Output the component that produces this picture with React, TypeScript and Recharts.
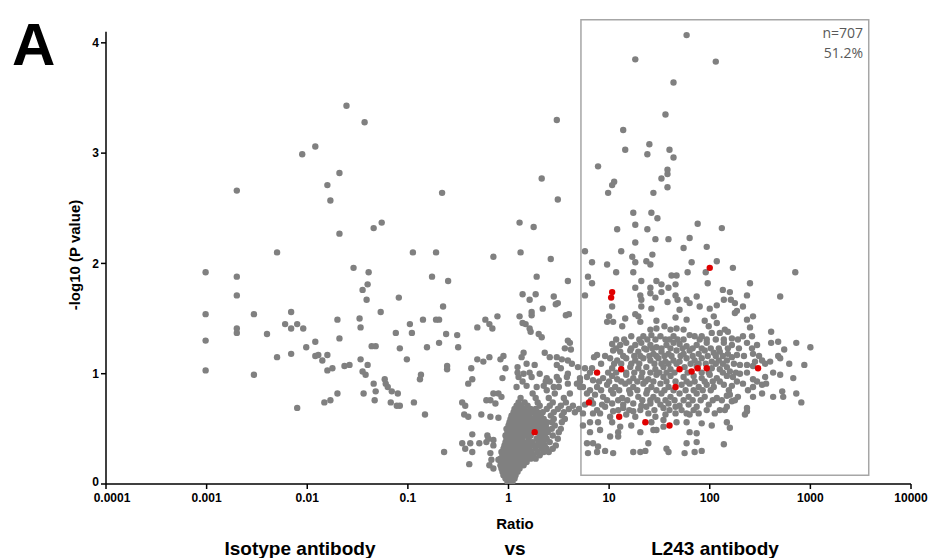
import React from 'react';
import { ScatterChart, Scatter, XAxis, YAxis, ReferenceArea } from 'recharts';

// x values are log10(ratio), y values are -log10(P)
const xTicks = [-4, -3, -2, -1, 0, 1, 2, 3, 4];
const xTickLabels = ['0.0001', '0.001', '0.01', '0.1', '1', '10', '100', '1000', '10000'];
const yTicks = [0, 1, 2, 3, 4];

// selection box (ratio 5.3 .. 3800)
const boxX = [0.72, 3.58];
const boxY = [0.08, 4.21];
const boxCount = 'n=707';
const boxShare = '51.2%';

const outsidePoints: [number, number][] = [
  [-1.61, 3.43], [-1.43, 3.28], [-1.92, 3.06], [-2.05, 2.99], [-1.68, 2.82], [-2.70, 2.66], [-1.80, 2.71],
  [-1.77, 2.57], [-0.66, 2.64], [-1.26, 2.37], [-1.34, 2.32], [-1.68, 2.27], [-2.30, 2.10], [-0.95, 2.10],
  [-0.72, 2.10], [-3.01, 1.92], [-2.70, 1.88], [-1.54, 1.96], [-1.39, 1.92], [-0.76, 1.88], [-0.60, 1.84],
  [-2.70, 1.71], [-3.01, 1.54], [-3.01, 1.30], [-3.01, 1.03], [-2.70, 1.41], [-2.70, 1.37], [-2.53, 1.54],
  [-2.40, 1.36], [-2.53, 0.99], [-2.30, 1.15], [-2.16, 1.56], [-2.22, 1.45], [-2.16, 1.41], [-2.10, 1.45],
  [-2.04, 1.41], [-2.16, 1.18], [-2.10, 0.69], [-2.01, 1.24], [-1.92, 1.29], [-1.92, 1.16], [-1.89, 1.17],
  [-1.80, 1.17], [-1.85, 1.12], [-1.80, 1.03], [-1.75, 1.05], [-1.70, 1.49], [-1.68, 1.32], [-1.63, 1.07],
  [-1.58, 1.08], [-1.83, 0.74], [-1.77, 0.76], [-1.70, 0.82], [-1.48, 1.50], [-1.47, 1.42], [-1.45, 1.76],
  [-1.40, 1.81], [-1.41, 1.67], [-1.47, 1.13], [-1.40, 1.08], [-1.45, 1.02], [-1.42, 0.99], [-1.44, 0.82],
  [-1.36, 1.25], [-1.32, 1.25], [-1.27, 1.56], [-1.34, 0.91], [-1.32, 0.84], [-1.33, 0.76], [-1.23, 0.95],
  [-1.22, 0.91], [-1.20, 0.88], [-1.16, 0.84], [-1.10, 0.82], [-1.17, 0.74], [-1.11, 0.71], [-1.08, 0.71],
  [-1.09, 1.69], [-1.12, 1.37], [-1.08, 1.23], [-1.01, 1.13], [-0.98, 1.45], [-0.96, 1.37], [-0.94, 0.74],
  [-0.85, 1.49], [-0.81, 1.24], [-0.87, 0.99], [-0.88, 0.95], [-0.83, 0.63], [-0.72, 1.49], [-0.69, 1.49],
  [-0.65, 1.61], [-0.62, 1.36], [-0.69, 1.28], [-0.61, 1.07], [-0.61, 1.04], [-0.51, 1.35], [-0.50, 1.24],
  [-0.31, 1.42], [-0.31, 1.13], [-0.37, 1.05], [-0.36, 0.95], [-0.40, 0.91], [-0.46, 0.74], [-0.43, 0.71],
  [-0.44, 0.63], [-0.40, 0.61], [-0.36, 0.45], [-0.46, 0.37], [-0.38, 0.37], [-0.43, 0.32], [-0.36, 0.29],
  [-0.39, 0.18], [-0.64, 0.29], [-0.29, 0.37],
  [0.48, 3.30], [0.33, 2.77], [0.49, 2.58], [0.11, 2.37], [0.25, 2.33], [-0.15, 2.06], [0.12, 2.10],
  [0.42, 2.04], [0.28, 1.88], [0.59, 1.84], [0.14, 1.72], [0.21, 1.67], [0.27, 1.72], [0.45, 1.70],
  [0.49, 1.64], [0.47, 1.63], [-0.11, 1.52], [0.11, 1.52], [0.23, 1.56], [0.23, 1.53], [0.34, 1.59],
  [0.57, 1.53], [0.60, 1.54], [-0.23, 1.49], [-0.19, 1.45], [-0.16, 1.41], [0.14, 1.46], [0.17, 1.45],
  [0.21, 1.41], [0.22, 1.38], [0.30, 1.36], [0.33, 1.33], [0.59, 1.30], [0.61, 1.28], [0.56, 1.23],
  [0.62, 1.22], [0.15, 1.19], [0.13, 1.15], [0.36, 1.19], [0.41, 1.15], [0.48, 1.15], [0.53, 1.13],
  [0.59, 1.12], [0.63, 1.09], [0.48, 1.08], [0.52, 1.05], [0.69, 1.06], [-0.25, 1.11], [-0.19, 1.15],
  [-0.08, 1.13], [-0.05, 1.16], [-0.03, 1.05], [0.09, 1.06], [0.18, 1.09], [0.26, 1.08], [-0.06, 0.96],
  [0.10, 0.97], [0.09, 1.01], [0.21, 1.01], [0.23, 0.97], [0.31, 1.00], [0.38, 0.96], [0.37, 0.93],
  [0.41, 0.93], [0.50, 0.94], [0.58, 0.97], [0.71, 0.96], [0.14, 0.93], [0.18, 0.89], [0.08, 0.88],
  [0.28, 0.88], [0.35, 0.89], [0.38, 0.85], [0.45, 0.88], [0.50, 0.88], [0.59, 0.91], [0.68, 0.91],
  [0.71, 0.88], [-0.15, 0.82], [-0.10, 0.82], [-0.07, 0.79], [-0.18, 0.76], [-0.27, 0.63], [-0.22, 0.38],
  [-0.21, 0.44], [-0.15, 0.40], [-0.18, 0.28], [-0.19, 0.17], [-0.15, 0.14], [-0.09, 0.22],
  [0.15, 1.00], [0.48, 0.97], [0.59, 1.00], [0.71, 0.93], [-0.22, 0.76], [-0.13, 0.73], [-0.18, 0.61],
  [-0.10, 0.60], [-0.20, 0.41], [-0.15, 0.35], [-0.17, 0.22], [-0.10, 0.22],
];

// dense cone around ratio 1, row by row: [y, x values]
const coneRows: [number, number[]][] = [
  [0.02, [-0.01, 0.02, 0.04]],
  [0.05, [-0.03, 0.0, 0.03, 0.06]],
  [0.08, [-0.05, -0.02, 0.01, 0.04, 0.07]],
  [0.11, [-0.06, -0.03, 0.0, 0.03, 0.06, 0.09]],
  [0.14, [-0.07, -0.03, 0.01, 0.04, 0.08, 0.11]],
  [0.17, [-0.08, -0.04, 0.0, 0.04, 0.07, 0.11, 0.15]],
  [0.2, [-0.07, -0.03, 0.01, 0.05, 0.09, 0.13, 0.18]],
  [0.23, [-0.08, -0.04, 0.0, 0.04, 0.08, 0.12, 0.17, 0.22, 0.27]],
  [0.26, [-0.06, -0.02, 0.02, 0.06, 0.1, 0.15, 0.2, 0.25, 0.31]],
  [0.29, [-0.07, -0.03, 0.01, 0.05, 0.09, 0.13, 0.18, 0.23, 0.29, 0.35, 0.4]],
  [0.32, [-0.05, -0.01, 0.03, 0.07, 0.11, 0.16, 0.21, 0.27, 0.33, 0.38, 0.44]],
  [0.35, [-0.04, 0.0, 0.04, 0.08, 0.12, 0.17, 0.22, 0.26, 0.31, 0.36, 0.47]],
  [0.38, [-0.03, 0.01, 0.05, 0.09, 0.14, 0.19, 0.24, 0.3, 0.35, 0.41]],
  [0.41, [-0.02, 0.02, 0.06, 0.1, 0.14, 0.2, 0.28, 0.33, 0.38, 0.49]],
  [0.44, [-0.03, 0.01, 0.05, 0.09, 0.13, 0.18, 0.22, 0.31, 0.36, 0.44]],
  [0.47, [-0.01, 0.03, 0.07, 0.11, 0.15, 0.2, 0.3, 0.34, 0.39, 0.5]],
  [0.5, [-0.02, 0.02, 0.06, 0.1, 0.14, 0.19, 0.24, 0.28, 0.33, 0.38, 0.43, 0.52]],
  [0.53, [0.0, 0.04, 0.08, 0.12, 0.17, 0.22, 0.27, 0.32, 0.37, 0.46]],
  [0.56, [0.01, 0.05, 0.09, 0.13, 0.18, 0.23, 0.28, 0.33, 0.38, 0.43, 0.53]],
  [0.59, [0.02, 0.06, 0.1, 0.15, 0.2, 0.25, 0.3, 0.35, 0.45, 0.56]],
  [0.62, [0.03, 0.07, 0.12, 0.17, 0.21, 0.27, 0.32, 0.42, 0.53]],
  [0.65, [0.05, 0.09, 0.14, 0.19, 0.24, 0.29, 0.34, 0.45, 0.55, 0.66]],
  [0.68, [0.06, 0.11, 0.16, 0.22, 0.27, 0.38, 0.49, 0.6, 0.7]],
  [0.71, [0.08, 0.13, 0.19, 0.31, 0.41, 0.52, 0.64]],
  [0.74, [0.1, 0.16, 0.29, 0.44, 0.57]],
  [0.78, [0.12, 0.27, 0.4, 0.55]],
  [0.82, [0.24, 0.46, 0.61]],
];

const boxPoints: [number, number][] = [
  [1.77, 4.07], [1.26, 3.85], [2.06, 3.83], [1.64, 3.64], [1.56, 3.35], [1.14, 3.21], [1.16, 3.03],
  [1.40, 3.08], [1.38, 2.99], [1.60, 3.03], [1.64, 2.96], [0.89, 2.88], [1.58, 2.85], [1.58, 2.81],
  [1.52, 2.77], [1.05, 2.74], [1.03, 2.71], [1.58, 2.69], [0.99, 2.64], [1.44, 2.64], [1.24, 2.46],
  [1.42, 2.46], [1.48, 2.41], [1.88, 2.36], [1.26, 2.35], [1.08, 2.31], [1.38, 2.31], [2.12, 2.32],
  [1.26, 2.19], [1.46, 2.22], [1.59, 2.22], [1.80, 2.23], [1.74, 2.14], [1.97, 2.15], [0.76, 2.11],
  [1.12, 2.11], [1.23, 2.06], [1.43, 2.08], [1.26, 2.01], [1.37, 2.02], [1.41, 1.99], [0.83, 2.01],
  [0.98, 1.99], [1.82, 2.01], [2.07, 2.02], [1.07, 1.92], [1.24, 1.92], [1.62, 1.89], [1.67, 1.89],
  [1.78, 1.92], [1.96, 1.92], [0.79, 1.88], [0.83, 1.82], [1.32, 1.84], [1.47, 1.84], [1.52, 1.81],
  [1.66, 1.81], [1.98, 1.82], [1.26, 1.78], [1.41, 1.78], [1.59, 1.78], [2.13, 1.76], [0.76, 1.71],
  [1.31, 1.71], [1.41, 1.73], [1.52, 1.74], [1.66, 1.71], [1.32, 1.67], [1.46, 1.69], [1.68, 1.67],
  [1.77, 1.67], [1.87, 1.70], [2.14, 1.67], [1.58, 1.65], [1.03, 1.61], [1.42, 1.59], [1.70, 1.58],
  [1.90, 1.61], [2.07, 1.62], [2.20, 1.74], [2.37, 1.71], [2.70, 1.70], [1.80, 1.64], [2.00, 1.59],
  [2.25, 1.64], [2.33, 1.61], [1.32, 1.61], [2.23, 1.96], [2.85, 1.92], [2.40, 1.82], [2.21, 1.67],
  [2.27, 1.57], [2.25, 1.55],
  [1.26, 1.54], [1.29, 1.52], [1.00, 1.52], [1.16, 1.50], [0.98, 1.47], [1.04, 1.47], [1.31, 1.47],
  [1.47, 1.48], [1.66, 1.51], [1.77, 1.49], [1.95, 1.48], [2.04, 1.52], [2.37, 1.49], [2.43, 1.52],
  [2.07, 1.46], [1.13, 1.43], [1.41, 1.40], [1.47, 1.41], [1.55, 1.43], [1.61, 1.40], [1.67, 1.41],
  [1.74, 1.40], [1.99, 1.43], [2.15, 1.40], [2.40, 1.42], [2.61, 1.38],
  [1.22, 1.34], [1.34, 1.34], [1.42, 1.35], [1.51, 1.34], [1.56, 1.31], [1.64, 1.34], [1.80, 1.35],
  [1.85, 1.34], [1.92, 1.34], [2.02, 1.37], [2.10, 1.37], [2.18, 1.38], [2.33, 1.34], [2.42, 1.34],
  [2.61, 1.28], [2.68, 1.29], [2.86, 1.28], [1.03, 1.27], [1.11, 1.26], [1.17, 1.28], [1.26, 1.26],
  [1.32, 1.28], [1.41, 1.26], [1.47, 1.24], [1.57, 1.26], [1.64, 1.28], [1.70, 1.27], [1.77, 1.25],
  [1.87, 1.26], [1.97, 1.28], [2.14, 1.28], [2.22, 1.26], [2.37, 1.28], [2.47, 1.26], [2.74, 1.22],
  [2.22, 1.32], [3.00, 1.24],
  [1.04, 1.21], [1.11, 1.20], [1.21, 1.21], [1.29, 1.20], [1.37, 1.22], [1.44, 1.18], [1.52, 1.20],
  [1.59, 1.18], [1.67, 1.21], [1.74, 1.18], [1.80, 1.21], [1.89, 1.18], [1.95, 1.21], [2.04, 1.19],
  [2.10, 1.20], [2.18, 1.18], [2.27, 1.17], [2.43, 1.18], [2.52, 1.12], [2.60, 1.11], [2.70, 1.14],
  [2.79, 1.09], [0.88, 1.17], [0.85, 1.15], [1.01, 1.14], [1.08, 1.12], [1.17, 1.14], [1.26, 1.12],
  [1.34, 1.14], [1.41, 1.12], [1.49, 1.14], [1.56, 1.11], [1.64, 1.12], [1.70, 1.11], [1.77, 1.14],
  [1.85, 1.12], [1.92, 1.14], [2.02, 1.11], [2.09, 1.12], [2.17, 1.12], [2.22, 1.15], [2.30, 1.08],
  [2.37, 1.08], [2.45, 1.11], [0.76, 1.05], [0.83, 1.05], [1.03, 1.05], [1.21, 1.06], [1.29, 1.05],
  [1.37, 1.06], [1.46, 1.04], [1.54, 1.06], [1.61, 1.04], [1.75, 1.06], [1.87, 1.07], [2.02, 1.05],
  [2.10, 1.04], [2.17, 1.06], [2.68, 1.16], [2.43, 1.07], [2.94, 1.08],
  [0.78, 0.97], [0.84, 0.94], [0.94, 0.96], [1.03, 0.98], [1.08, 0.95], [1.17, 0.99], [1.24, 0.96],
  [1.32, 0.97], [1.39, 0.95], [1.47, 0.99], [1.54, 0.97], [1.61, 0.98], [1.74, 0.97], [1.84, 0.98],
  [1.92, 0.96], [2.00, 0.99], [2.07, 0.96], [2.17, 0.98], [2.23, 0.97], [2.30, 1.00], [2.43, 0.95],
  [2.55, 0.97], [2.70, 0.99], [2.83, 0.96], [0.74, 0.88], [0.88, 0.88], [0.98, 0.90], [1.06, 0.88],
  [1.16, 0.91], [1.24, 0.88], [1.34, 0.91], [1.42, 0.88], [1.51, 0.91], [1.59, 0.88], [1.72, 0.90],
  [1.80, 0.91], [1.89, 0.88], [1.97, 0.90], [2.04, 0.88], [2.14, 0.90], [2.33, 0.91], [2.52, 0.90],
  [2.43, 0.88], [2.20, 1.02], [2.56, 0.91], [2.72, 0.84], [2.22, 0.89],
  [0.78, 0.82], [0.86, 0.81], [0.94, 0.79], [1.04, 0.82], [1.13, 0.78], [1.21, 0.82], [1.29, 0.79],
  [1.37, 0.82], [1.44, 0.79], [1.52, 0.82], [1.61, 0.79], [1.70, 0.82], [1.79, 0.79], [1.87, 0.82],
  [1.95, 0.79], [2.07, 0.78], [2.17, 0.80], [2.28, 0.79], [2.43, 0.79], [2.52, 0.82], [2.63, 0.79],
  [2.73, 0.79], [2.86, 0.82], [0.76, 0.72], [0.84, 0.73], [0.93, 0.72], [1.03, 0.73], [1.14, 0.72],
  [1.24, 0.73], [1.32, 0.71], [1.41, 0.73], [1.51, 0.72], [1.59, 0.73], [1.70, 0.71], [1.79, 0.72],
  [1.87, 0.70], [1.99, 0.72], [2.17, 0.70], [2.37, 0.69], [2.20, 0.81], [2.91, 0.74], [2.22, 0.75],
  [2.37, 0.66], [2.35, 0.63], [2.20, 0.51],
  [0.74, 0.64], [0.84, 0.64], [0.96, 0.70], [1.04, 0.66], [1.14, 0.69], [1.24, 0.66], [1.37, 0.70],
  [1.54, 0.69], [1.66, 0.70], [1.77, 0.64], [1.89, 0.64], [2.05, 0.64], [2.15, 0.67], [0.91, 0.64],
  [1.01, 0.61], [1.17, 0.63], [1.26, 0.61], [1.39, 0.64], [1.46, 0.61], [1.56, 0.63], [1.66, 0.64],
  [1.80, 0.63], [2.17, 0.56], [1.92, 0.55], [1.80, 0.47], [1.87, 0.46], [1.22, 0.53], [1.31, 0.47],
  [1.44, 0.49], [1.54, 0.52], [1.11, 0.52], [0.91, 0.49], [0.81, 0.47], [1.01, 0.43], [2.02, 0.53],
  [0.81, 0.56], [0.89, 0.56], [1.03, 0.56], [1.42, 0.56], [1.54, 0.58], [1.67, 0.56], [1.77, 0.56],
  [0.74, 0.53], [1.09, 0.47], [1.47, 0.49], [0.78, 0.37], [0.84, 0.37], [0.89, 0.34], [1.09, 0.43],
  [1.39, 0.37], [1.57, 0.32], [1.59, 0.29], [1.77, 0.37], [1.87, 0.38], [2.14, 0.36], [0.79, 0.28],
  [0.88, 0.29], [0.96, 0.30], [1.04, 0.28], [1.24, 0.29], [1.31, 0.29], [1.36, 0.30], [1.75, 0.28],
  [1.85, 0.29], [1.92, 0.30],
];

// the crowded core of the box, filled in row by row: [y, x values]
const boxCoreRows: [number, number[]][] = [
  [1.31, [1.07, 1.15, 1.3, 1.38, 1.46, 1.6, 1.68, 1.74, 1.9, 1.97, 2.06, 2.14, 2.28]],
  [1.23, [1.07, 1.22, 1.35, 1.43, 1.52, 1.61, 1.73, 1.83, 1.92, 2.01, 2.09, 2.18, 2.29, 2.42]],
  [1.16, [0.96, 1.14, 1.25, 1.31, 1.4, 1.47, 1.55, 1.62, 1.71, 1.83, 1.98, 2.06, 2.13, 2.34, 2.49]],
  [1.09, [0.92, 1.05, 1.12, 1.22, 1.3, 1.45, 1.52, 1.59, 1.67, 1.81, 1.89, 1.96, 2.06, 2.13, 2.24, 2.55]],
  [1.01, [0.81, 0.99, 1.07, 1.17, 1.25, 1.33, 1.41, 1.5, 1.57, 1.65, 1.78, 1.92, 1.99, 2.13, 2.26, 2.37, 2.63]],
  [0.93, [0.9, 1.0, 1.12, 1.2, 1.28, 1.36, 1.44, 1.57, 1.66, 1.77, 1.85, 1.95, 2.03, 2.1, 2.27, 2.47]],
  [0.85, [0.81, 0.92, 1.02, 1.1, 1.2, 1.28, 1.38, 1.47, 1.55, 1.64, 1.76, 1.84, 1.93, 2.01, 2.19, 2.38]],
  [0.76, [0.82, 0.98, 1.09, 1.18, 1.33, 1.41, 1.48, 1.56, 1.65, 1.74, 1.83, 1.91, 2.03, 2.12, 2.25]],
  [0.67, [0.88, 1.09, 1.2, 1.31, 1.45, 1.6, 1.72, 1.84, 1.97, 2.1]],
];

// proteins highlighted in red
const markedPoints: [number, number][] = [
  [2.0, 1.96], [1.03, 1.74], [1.02, 1.69], [0.88, 1.01], [1.12, 1.04], [1.7, 1.04], [1.82, 1.02],
  [1.88, 1.05], [1.97, 1.05], [1.66, 0.88], [0.8, 0.74], [1.1, 0.61], [1.36, 0.56], [1.6, 0.53],
  [2.48, 1.05], [0.26, 0.47],
];

const toRows = (pts: [number, number][]) => pts.map(([lr, p]) => ({ lr, p }));
const fromRowList = (rows: [number, number[]][]) => rows.flatMap(([p, xs]) => xs.map((lr) => ({ lr, p })));
const greyData = [
  ...toRows(outsidePoints),
  ...fromRowList(coneRows),
  ...toRows(boxPoints),
  ...fromRowList(boxCoreRows),
];
const redData = toRows(markedPoints);

const GREY = '#808080';
const RED = '#e00000';
const axisFont = '"Liberation Sans Narrow", "Arial Narrow", "Liberation Sans", Arial, sans-serif';

const dot = (color: string) => (props: any) =>
  <circle cx={props.cx} cy={props.cy} r={3.2} fill={color} />;

const XTick = (props: any) => {
  const { x, y, payload } = props;
  const shift = payload.value === xTicks[0] ? 6 : 0;
  return (
    <text x={x + shift} y={y + 2} dy="0.75em" textAnchor="middle" fontSize={12} fontWeight={700} fontFamily={axisFont} fill="#000">
      {xTickLabels[xTicks.indexOf(payload.value)]}
    </text>
  );
};

const YTick = (props: any) => {
  const { x, y, payload } = props;
  const lift = payload.value === 0 ? -2 : 0;
  return (
    <text x={x} y={y + lift} dy="0.35em" textAnchor="end" fontSize={12} fontWeight={700} fontFamily={axisFont} fill="#000">
      {payload.value}
    </text>
  );
};

export default function App() {
  return (
    <div style={{ position: 'absolute', left: 0, top: 0, width: 934, height: 558, background: '#fff' }}>
      <ScatterChart width={934} height={558} margin={{ top: 31.8, right: 23, bottom: 44, left: 66 }}>
        <XAxis
          type="number"
          dataKey="lr"
          domain={[-4, 4]}
          ticks={xTicks}
          height={30}
          tickSize={5}
          axisLine={{ stroke: '#000', strokeWidth: 1.5 }}
          tickLine={{ stroke: '#000', strokeWidth: 1.5 }}
          tick={<XTick />}
          allowDataOverflow
        />
        <YAxis
          type="number"
          dataKey="p"
          domain={[0, 4.1]}
          ticks={yTicks}
          width={40}
          tickSize={5}
          axisLine={{ stroke: '#000', strokeWidth: 1.5 }}
          tickLine={{ stroke: '#000', strokeWidth: 1.5 }}
          tick={<YTick />}
          allowDataOverflow
        />
        <ReferenceArea
          x1={boxX[0]}
          x2={boxX[1]}
          y1={boxY[0]}
          y2={boxY[1]}
          ifOverflow="visible"
          fill="none"
          stroke="#a6a6a6"
          strokeWidth={1.5}
        />
        <Scatter data={greyData} fill={GREY} shape={dot(GREY)} isAnimationActive={false} />
        <Scatter data={redData} fill={RED} shape={dot(RED)} isAnimationActive={false} />
      </ScatterChart>
      <svg width={934} height={558} style={{ position: 'absolute', left: 0, top: 0, pointerEvents: 'none' }}>
        <text x={12} y={65} fontSize={60} fontWeight={700} fontFamily="Liberation Sans, Arial, sans-serif" fill="#000">A</text>
        <text x={863} y={38} textAnchor="end" fontSize={14} fontFamily="Open Sans, sans-serif" fill="#595959">{boxCount}</text>
        <text x={863} y={58} textAnchor="end" fontSize={14} fontFamily="Open Sans, sans-serif" fill="#595959">{boxShare}</text>
        <text x={0} y={0} transform="translate(80,255) rotate(-90)" textAnchor="middle" fontSize={15} fontWeight={700} fontFamily={axisFont} fill="#000">-log10 (P value)</text>
        <text x={515} y={529} textAnchor="middle" fontSize={15} fontWeight={700} fontFamily={axisFont} fill="#000">Ratio</text>
        <text x={300} y={555} textAnchor="middle" fontSize={19} fontWeight={700} fontFamily={axisFont} fill="#000">Isotype antibody</text>
        <text x={515} y={555} textAnchor="middle" fontSize={19} fontWeight={700} fontFamily={axisFont} fill="#000">vs</text>
        <text x={715} y={555} textAnchor="middle" fontSize={19} fontWeight={700} fontFamily={axisFont} fill="#000">L243 antibody</text>
      </svg>
    </div>
  );
}
